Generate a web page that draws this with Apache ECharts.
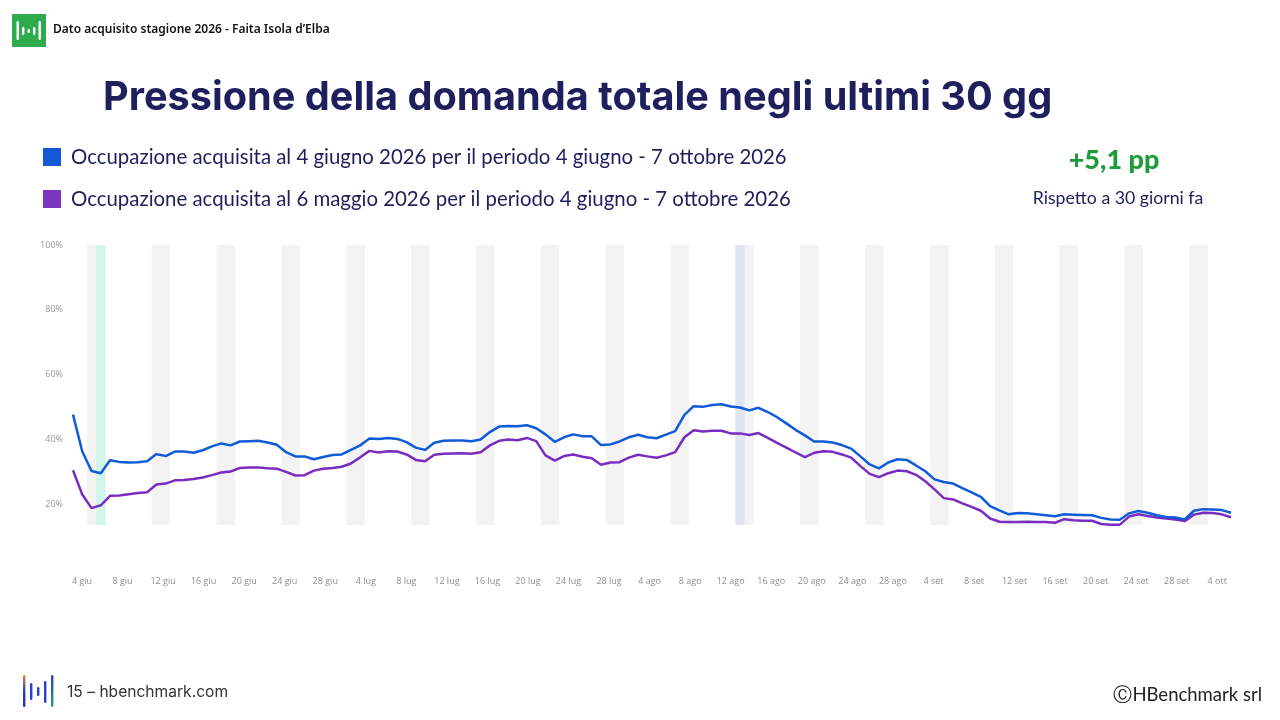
<!DOCTYPE html>
<html>
<head>
    <meta charset="utf-8">
    <title>Pressione della domanda</title>
    <script src="https://cdn.jsdelivr.net/npm/echarts@6/dist/echarts.min.js"></script>
    <style>
        html, body {
            margin: 0;
            padding: 0;
            background: #ffffff;
        }

        #main {
            width: 1280px;
            height: 720px;
        }
    </style>
</head>
<body>
<div id="main"></div>
<script>
    // occupazione al 4 giugno (dal 3 giugno al 6 ottobre, un punto al giorno)
    var occAttuale = [
        47.6, 36.2, 30.2, 29.5, 33.5, 33.0, 32.8, 32.9, 33.2, 35.4,
        34.8, 36.2, 36.2, 35.8, 36.6, 37.8, 38.7, 38.1, 39.3, 39.4,
        39.5, 39.0, 38.3, 36.0, 34.7, 34.7, 33.8, 34.5, 35.1, 35.3,
        36.7, 38.1, 40.2, 40.1, 40.4, 40.1, 39.1, 37.4, 36.7, 38.9,
        39.5, 39.6, 39.6, 39.4, 39.9, 42.2, 43.9, 44.1, 44.0, 44.3,
        43.4, 41.5, 39.2, 40.6, 41.5, 40.9, 40.9, 38.2, 38.4, 39.3,
        40.6, 41.4, 40.6, 40.3, 41.4, 42.5, 47.5, 50.2, 50.0, 50.6,
        50.8, 50.1, 49.8, 48.9, 49.7, 48.4, 46.8, 44.9, 42.9, 41.2,
        39.3, 39.3, 39.0, 38.2, 37.1, 34.7, 32.2, 31.0, 32.8, 33.8,
        33.6, 31.9, 30.1, 27.6, 26.8, 26.3, 24.9, 23.6, 22.2, 19.3,
        18.0, 16.8, 17.2, 17.1, 16.8, 16.5, 16.2, 16.8, 16.7, 16.6,
        16.5, 15.7, 15.2, 15.1, 17.1, 17.8, 17.3, 16.5, 16.0, 15.8,
        15.2, 17.9, 18.4, 18.3, 18.1, 17.3
    ];

    // occupazione al 6 maggio
    var occPrecedente = [
        30.4, 22.9, 18.7, 19.6, 22.5, 22.6, 23.0, 23.4, 23.6, 26.0,
        26.3, 27.3, 27.4, 27.7, 28.2, 28.9, 29.7, 30.0, 31.1, 31.3,
        31.3, 31.0, 30.9, 29.9, 28.8, 28.9, 30.3, 30.9, 31.1, 31.5,
        32.5, 34.4, 36.4, 35.9, 36.3, 36.2, 35.3, 33.6, 33.2, 35.2,
        35.5, 35.6, 35.7, 35.5, 36.0, 38.1, 39.5, 39.9, 39.7, 40.4,
        39.4, 35.0, 33.4, 34.8, 35.3, 34.6, 34.1, 32.1, 32.8, 32.9,
        34.3, 35.2, 34.7, 34.3, 35.0, 36.0, 40.6, 42.8, 42.4, 42.6,
        42.6, 41.8, 41.8, 41.3, 41.9, 40.4, 38.9, 37.4, 35.9, 34.5,
        35.8, 36.3, 36.1, 35.3, 34.3, 31.7, 29.3, 28.3, 29.5, 30.3,
        30.1, 29.0, 27.0, 24.5, 21.8, 21.4, 20.2, 19.1, 17.9, 15.5,
        14.5, 14.4, 14.4, 14.5, 14.4, 14.4, 14.2, 15.3, 15.0, 14.8,
        14.8, 13.8, 13.6, 13.6, 16.1, 16.8, 16.3, 15.8, 15.5, 15.2,
        14.7, 16.7, 17.3, 17.2, 16.8, 15.9
    ];

    // venerdi (indice del giorno) : fascia venerdi + sabato
    var weekendStart = [2, 9, 16, 23, 30, 37, 44, 51, 58, 65, 72, 79, 86, 93, 100, 107, 114, 121];
    var giornoEvidenziato1 = 3;   // 6 giugno
    var giornoEvidenziato2 = 72;  // 14 agosto

    var tickLabels = [
        '4 giu', '8 giu', '12 giu', '16 giu', '20 giu', '24 giu', '28 giu',
        '4 lug', '8 lug', '12 lug', '16 lug', '20 lug', '24 lug', '28 lug',
        '4 ago', '8 ago', '12 ago', '16 ago', '20 ago', '24 ago', '28 ago',
        '4 set', '8 set', '12 set', '16 set', '20 set', '24 set', '28 set',
        '4 ott'
    ];
    var yTicks = [20, 40, 60, 80, 100];

    var legendAttuale = 'Occupazione acquisita al 4 giugno 2026 per il periodo 4 giugno - 7 ottobre 2026';
    var legendPrecedente = 'Occupazione acquisita al 6 maggio 2026 per il periodo 4 giugno - 7 ottobre 2026';

    var navy = '#1f1f5e';

    var chart = echarts.init(document.getElementById('main'));

    var bands = [];
    weekendStart.forEach(function (d) {
        bands.push([{xAxis: d - 0.5, itemStyle: {color: '#f3f3f3'}}, {xAxis: d + 1.5}]);
    });
    bands.push([{xAxis: giornoEvidenziato1 - 0.5, itemStyle: {color: '#d3f6ec'}}, {xAxis: giornoEvidenziato1 + 0.5}]);
    bands.push([{xAxis: giornoEvidenziato2 - 0.5, itemStyle: {color: '#e2e3f3'}}, {xAxis: giornoEvidenziato2 + 0.5}]);

    var labelPos = tickLabels.map(function (t, k) {
        return k;
    });

    function txt(text, x, y, size, weight, color, family, align) {
        return {
            type: 'text',
            x: x,
            y: y,
            style: {
                text: text,
                fill: color,
                fontSize: size,
                fontWeight: weight,
                fontFamily: family,
                align: align || 'left',
                textAlign: align || 'left',
                verticalAlign: 'middle',
                textVerticalAlign: 'middle'
            }
        };
    }

    function bar(x, y1, y2, fill) {
        return {
            type: 'rect',
            shape: {x: x, y: y1, width: 2.4, height: y2 - y1, r: 1.2},
            style: {fill: fill}
        };
    }

    var gradA = new echarts.graphic.LinearGradient(0, 0, 0, 1, [
        {offset: 0, color: '#f08a24'}, {offset: 0.5, color: '#2a3fd0'}, {offset: 1, color: '#1f2fc0'}
    ]);
    var gradB = new echarts.graphic.LinearGradient(0, 0, 0, 1, [
        {offset: 0, color: '#2a3fd0'}, {offset: 1, color: '#1fa07a'}
    ]);

    var option = {
        backgroundColor: '#ffffff',
        animation: false,
        textStyle: {fontFamily: 'Lato'},
        legend: {
            data: [legendAttuale, legendPrecedente],
            orient: 'vertical',
            left: 38,
            top: 142,
            icon: 'rect',
            itemWidth: 18,
            itemHeight: 18,
            itemGap: 22,
            selectedMode: false,
            textStyle: {
                fontSize: 20.4,
                fontFamily: 'Lato',
                color: navy,
                padding: [0, 0, 0, 5]
            }
        },
        grid: {
            left: 73,
            right: 49,
            top: 245,
            bottom: 195
        },
        xAxis: [
            {
                type: 'value',
                min: 0,
                max: occAttuale.length - 1,
                show: false
            },
            {
                type: 'value',
                position: 'bottom',
                min: -0.222,
                max: 28.34,
                axisLine: {show: false},
                axisTick: {show: false},
                splitLine: {show: false},
                axisLabel: {
                    customValues: labelPos,
                    margin: 52,
                    fontSize: 9,
                    fontFamily: 'Open Sans',
                    color: '#8c8c8c',
                    formatter: function (v) {
                        return tickLabels[Math.round(v)];
                    }
                }
            }
        ],
        yAxis: {
            type: 'value',
            min: 13.5,
            max: 100,
            axisLine: {show: false},
            axisTick: {show: false},
            splitLine: {show: false},
            axisLabel: {
                customValues: yTicks,
                margin: 10,
                fontSize: 9,
                fontFamily: 'Open Sans',
                color: '#999999',
                formatter: '{value}%'
            }
        },
        series: [
            {
                // solo per le fasce del fine settimana
                type: 'line',
                xAxisIndex: 0,
                data: [],
                silent: true,
                z: 1,
                markArea: {
                    silent: true,
                    data: bands
                }
            },
            {
                name: legendAttuale,
                type: 'line',
                xAxisIndex: 0,
                color: '#1459d6',
                showSymbol: false,
                z: 4,
                lineStyle: {width: 2.5, color: '#0f5bd8'},
                data: occAttuale.map(function (v, i) {
                    return [i, v];
                })
            },
            {
                name: legendPrecedente,
                type: 'line',
                xAxisIndex: 0,
                color: '#7b35c1',
                showSymbol: false,
                z: 3,
                lineStyle: {width: 2.5, color: '#7a2cc0'},
                data: occPrecedente.map(function (v, i) {
                    return [i, v];
                })
            }
        ],
        graphic: [
            // logo in alto
            {
                type: 'rect',
                shape: {x: 12, y: 14, width: 34, height: 33},
                style: {fill: '#2fab4f'}
            },
            bar(16.5, 21, 40, '#ffffff'),
            bar(22, 27, 35, '#ffffff'),
            bar(27.5, 29, 33, '#ffffff'),
            bar(33, 27, 35, '#ffffff'),
            bar(38.5, 21, 40, '#ffffff'),
            txt('Dato acquisito stagione 2026 - Faita Isola d\u2019Elba', 53, 30, 12, 600, '#111111', 'Noto Sans'),

            txt('Pressione della domanda totale negli ultimi 30 gg', 103, 98, 39.7, 700, navy, 'Inter'),

            txt('+5,1 pp', 1114, 160, 27, 900, '#1e9c3b', 'Lato', 'center'),
            txt('Rispetto a 30 giorni fa', 1118, 198, 17.7, 400, navy, 'Lato', 'center'),

            // logo in basso
            bar(23, 675, 707, gradA),
            bar(30, 683, 700, '#2a3fd0'),
            bar(37, 687, 696, '#2a3fd0'),
            bar(44, 681, 703, '#2a3fd0'),
            bar(51, 675, 707, gradB),
            txt('15 \u2013 hbenchmark.com', 67, 692, 15.6, 400, '#333333', 'Inter'),
            txt('\u24b8HBenchmark srl', 1262, 695, 18.5, 400, '#222222', 'Lato', 'right')
        ]
    };

    chart.setOption(option);
    window.onresize = function () {
        chart.resize();
    };
</script>
</body>
</html>
